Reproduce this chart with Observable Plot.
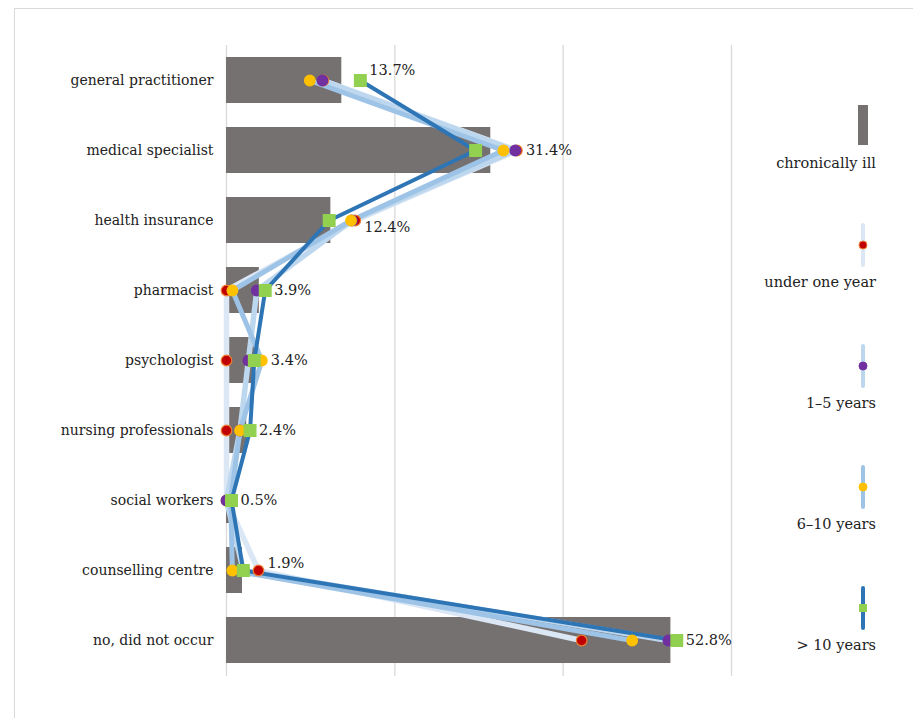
<!DOCTYPE html>
<html><head><meta charset="utf-8">
<script src="https://cdn.jsdelivr.net/npm/d3@7"></script>
<script src="https://cdn.jsdelivr.net/npm/@observablehq/plot@0.6"></script>
<style>
body{margin:0;background:#fff;}
#wrap{position:relative;width:913px;height:718px;overflow:hidden;font-family:"DejaVu Serif",serif;color:#222;}
#frame{position:absolute;left:14px;top:8px;width:1000px;height:1000px;border-left:1px solid #d9d9d9;border-top:1px solid #d9d9d9;}
#chart{position:absolute;left:0;top:0;}
.legtext{position:absolute;right:37px;font-size:14.5px;line-height:18px;white-space:nowrap;text-align:right;}
.legsw{position:absolute;}
</style></head><body>
<div id="wrap"><div id="frame"></div><div id="chart"></div><div id="legend"></div></div>
<script>
const categories = ["general practitioner","medical specialist","health insurance","pharmacist","psychologist","nursing professionals","social workers","counselling centre","no, did not occur"];
const chronicallyIll = [13.7,31.4,12.4,3.9,3.4,2.4,0.5,1.9,52.8];
const groups = ["under one year","1–5 years","6–10 years","> 10 years"];
const underOneYear = [11.5,34.5,15.3,0,0,0,0,3.8,42.2];
const oneToFiveYears = [11.4,34.3,14.9,3.6,2.6,1.6,0,2.0,52.5];
const sixToTenYears = [9.9,32.9,14.8,0.7,4.2,1.6,0.5,0.7,48.2];
const overTenYears = [15.9,29.6,12.2,4.6,3.3,2.8,0.6,2.0,53.5];
const xTicks = [0,20,40,60];

const series = [underOneYear, oneToFiveYears, sixToTenYears, overTenYears];
const lineColors = ["#dbe7f5","#bdd7ee","#9dc3e6","#2e75b6"];
const lineWidths = [5.5,5.5,5,4];
const markerFill = ["#c00000","#7030a0","#ffc000","#92d050"];
const markerStroke = ["#ed7d31","#7030a0","#ffc000","#92d050"];
const barColor = "#767171";
const fontSize = 14.5;

const bars = categories.map((c,i)=>({category:c, value:chronicallyIll[i], maxv:Math.max(chronicallyIll[i], ...series.map(s=>s[i]))}));
const points = groups.flatMap((g,j)=>categories.map((c,i)=>({group:g, category:c, value:series[j][i]})));

const labelNudge = {"general practitioner":-10,"health insurance":7,"counselling centre":-7};
const nudges = [-10,7,-7,0];

const chart = Plot.plot({
  width:913, height:718,
  marginLeft:226, marginRight:182, marginTop:45, marginBottom:42,
  x:{domain:[0,60], axis:null},
  y:{domain:categories, paddingInner:0.34, paddingOuter:0.17, label:null, axis:null},
  style:{fontFamily:"'DejaVu Serif', serif", fontSize:fontSize+"px", color:"#222", background:"transparent"},
  marks:[
    Plot.gridX(xTicks, {stroke:"#d9d9d9", strokeOpacity:1, strokeWidth:1.3}),
    Plot.barX(bars, {x:"value", y:"category", fill:barColor}),
    ...groups.map((g,j)=>Plot.line(points.filter(d=>d.group===g), {x:"value", y:"category", stroke:lineColors[j], strokeWidth:lineWidths[j], strokeLinejoin:"round", strokeLinecap:"round"})),
    ...groups.map((g,j)=>Plot.dot(points.filter(d=>d.group===g), {x:"value", y:"category", fill:markerFill[j], stroke:markerStroke[j], strokeWidth:1.2, symbol: j===3 ? "square" : "circle", r: j===3 ? 6.6 : 5.3})),
    ...nudges.map(n=>Plot.text(bars.filter(d=>(labelNudge[d.category]||0)===n), {x:"maxv", y:"category", text:d=>d.value.toFixed(1)+"%", textAnchor:"start", dx:9, dy:n, fontSize:fontSize, fill:"#222"})),
    Plot.axisY({tickSize:0, tickPadding:13, fontSize:14, label:null, fill:"#222"})
  ]
});
document.getElementById("chart").append(chart);

// legend
const leg = d3.select("#legend");
leg.append("div").attr("class","legsw").style("left","858px").style("top","105px")
  .style("width","10px").style("height","40px").style("background",barColor);
leg.append("div").attr("class","legtext").style("top",(163-9)+"px").text("chronically ill");
groups.forEach((g,j)=>{
  const cy = 245 + j*121;
  const svg = leg.append("svg").attr("class","legsw").attr("width",16).attr("height",48)
    .style("left",(863-8)+"px").style("top",(cy-24)+"px");
  svg.append("line").attr("x1",8).attr("x2",8).attr("y1",4).attr("y2",44)
    .attr("stroke",lineColors[j]).attr("stroke-width",4).attr("stroke-linecap","round");
  if (j===3) svg.append("rect").attr("x",4).attr("y",20).attr("width",8).attr("height",8).attr("fill",markerFill[j]);
  else svg.append("circle").attr("cx",8).attr("cy",24).attr("r",4).attr("fill",markerFill[j]).attr("stroke",markerStroke[j]).attr("stroke-width",1);
  leg.append("div").attr("class","legtext").style("top",(cy+37-9)+"px").text(g);
});
</script>
</body></html>
